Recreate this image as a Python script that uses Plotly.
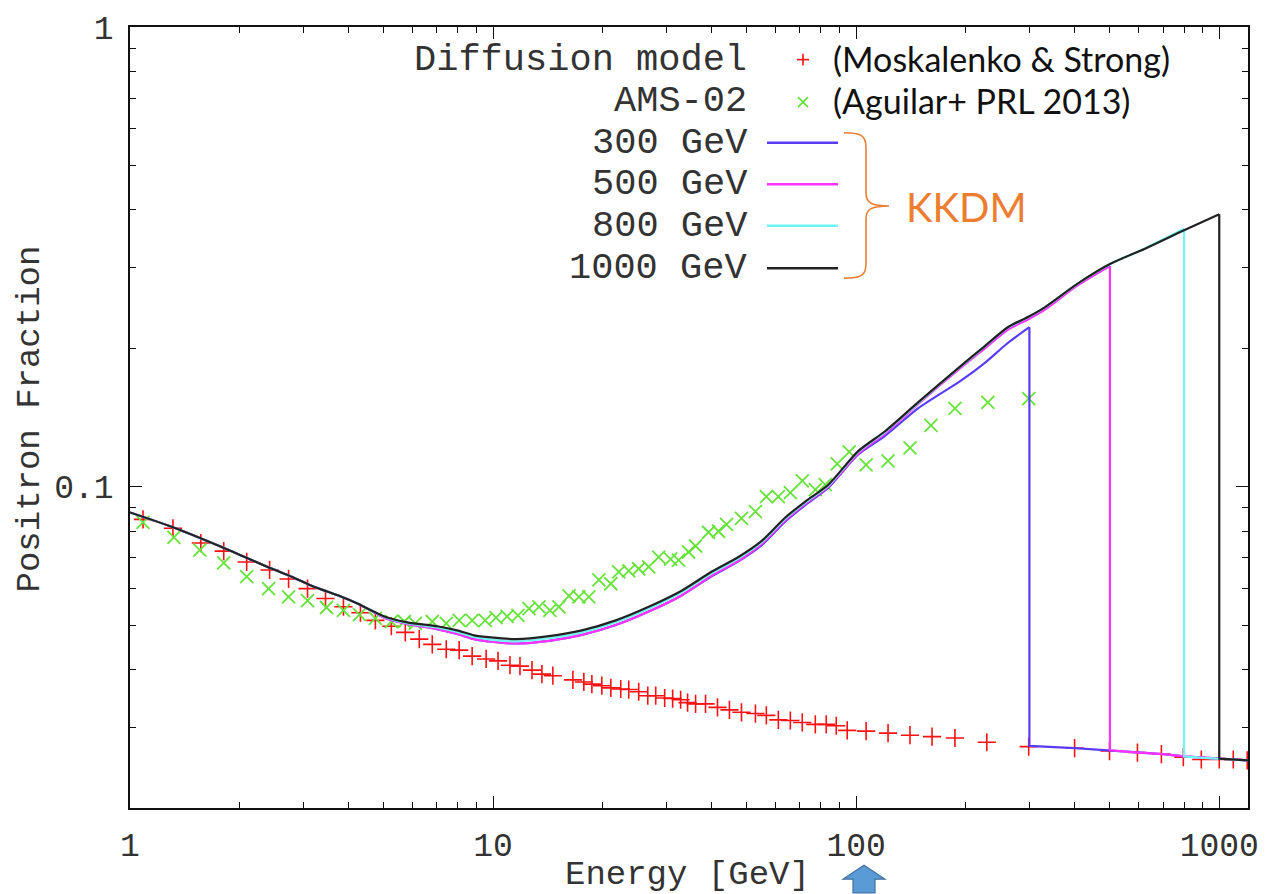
import math
import plotly.graph_objects as go

# ---------------- data ----------------
# Diffusion model background (Moskalenko & Strong)
bg_model_E = [1.086, 1.313, 1.567, 1.812, 2.096, 2.424, 2.734, 3.083, 3.455, 3.871, 4.312, 4.740, 5.245, 5.731,
              6.262, 6.800, 7.43, 8.065, 8.757, 9.57, 10.32, 11.13, 11.86, 12.80, 13.63, 14.61, 16.59, 17.78,
              18.71, 19.93, 21.10, 22.47, 23.64, 25.18, 26.67, 28.05, 29.69, 31.23, 32.85, 34.33, 36.12, 38.47,
              41.50, 44.77, 48.32, 52.79, 56.57, 61.05, 65.87, 71.05, 77.17, 82.71, 88.13, 94.47, 106.5, 122.4,
              140.7, 161.8, 187.1, 229.0, 298.7, 399.6, 498.7, 595.2, 692.9, 796.3, 892.4, 1000, 1093, 1194]
bg_model_frac = [0.0849, 0.0812, 0.0754, 0.0724, 0.0686, 0.0659, 0.0630, 0.0600, 0.0571, 0.0548, 0.0532, 0.0512,
                 0.0497, 0.0482, 0.0466, 0.0454, 0.0443, 0.0441, 0.0428, 0.0422, 0.0418, 0.0409, 0.0407, 0.0399,
                 0.0391, 0.0388, 0.0380, 0.0376, 0.0372, 0.0369, 0.0365, 0.0363, 0.0362, 0.0358, 0.0351, 0.0351,
                 0.0347, 0.0346, 0.0344, 0.0339, 0.0337, 0.0337, 0.0331, 0.0327, 0.0323, 0.0321, 0.0318, 0.0311,
                 0.0310, 0.0307, 0.0304, 0.0304, 0.0302, 0.0295, 0.0294, 0.0291, 0.0288, 0.0286, 0.0284, 0.0278,
                 0.0272, 0.0270, 0.0266, 0.0264, 0.0262, 0.0258, 0.0255, 0.0255, 0.0255, 0.0254]

# AMS-02 (Aguilar+ PRL 2013)
ams_E = [1.086, 1.321, 1.557, 1.812, 2.096, 2.409, 2.734, 3.083, 3.477, 3.871, 4.284, 4.740, 5.245, 5.694, 6.106,
         6.800, 7.43, 8.065, 8.757, 9.51, 10.19, 10.93, 11.71, 12.56, 13.38, 14.34, 15.18, 16.18, 17.23, 18.35,
         19.56, 21.10, 22.19, 23.64, 25.18, 26.83, 28.58, 30.83, 32.43, 34.55, 36.12, 39.21, 41.77, 43.95, 48.32,
         52.79, 56.57, 61.05, 65.87, 71.05, 77.17, 82.18, 88.67, 95.67, 106.5, 122.4, 140.7, 160.7, 187.1, 230.5,
         298.7]
ams_frac = [0.0836, 0.0776, 0.0728, 0.0683, 0.0637, 0.0600, 0.0576, 0.0565, 0.0546, 0.0538, 0.0527, 0.0517, 0.0509,
            0.0509, 0.0504, 0.0509, 0.0504, 0.0512, 0.0512, 0.0512, 0.0519, 0.0522, 0.0525, 0.0543, 0.0548, 0.0538,
            0.0548, 0.0579, 0.0576, 0.0576, 0.0627, 0.0615, 0.0653, 0.0656, 0.0663, 0.0669, 0.0703, 0.0696, 0.0692,
            0.0721, 0.0743, 0.0796, 0.0800, 0.0828, 0.0853, 0.0883, 0.0951, 0.0951, 0.0971, 0.1030, 0.0985, 0.1010,
            0.1121, 0.1190, 0.1115, 0.1138, 0.1214, 0.1360, 0.1480, 0.1525, 0.1555]

# KKDM model curves (energy grid shared), each ends at its DM mass
curve_E = [1.0, 1.313, 1.789, 2.070, 2.394, 2.787, 3.162, 3.823, 4.230, 4.622, 5.017, 5.804, 7.02, 7.96, 8.87,
           9.87, 11.57, 14.25, 17.56, 21.77, 26.83, 33.05, 39.96, 47.41, 54.83, 63.8, 72.4, 83.8, 101.3, 120.1,
           148.0, 194.3, 226.2, 261.6, 300, 330.5, 407.3, 500, 622.3, 800, 1000]
kk300_frac = [0.0879, 0.0816, 0.0739, 0.0703, 0.0669, 0.0637, 0.0609, 0.0576, 0.0557, 0.0537, 0.0519, 0.0503,
              0.0490, 0.0478, 0.0466, 0.0460, 0.0456, 0.0462, 0.0476, 0.0500, 0.0535, 0.0580, 0.0638, 0.0688,
              0.0745, 0.0840, 0.0912, 0.0995, 0.1175, 0.1290, 0.1480, 0.1701, 0.1860, 0.2054, 0.2223]
kk500_frac = [0.0879, 0.0816, 0.0739, 0.0703, 0.0669, 0.0637, 0.0609, 0.0576, 0.0557, 0.0537, 0.0519, 0.0503,
              0.0490, 0.0478, 0.0466, 0.0460, 0.0456, 0.0462, 0.0476, 0.0500, 0.0535, 0.0580, 0.0640, 0.0690,
              0.0750, 0.0845, 0.0918, 0.1000, 0.1180, 0.1305, 0.1512, 0.1815, 0.2000, 0.2195, 0.2320, 0.2425,
              0.2740, 0.3020]
kk800_frac = [0.0879, 0.0816, 0.0739, 0.0703, 0.0669, 0.0637, 0.0609, 0.0576, 0.0557, 0.0538, 0.0521, 0.0505,
              0.0494, 0.0483, 0.0471, 0.0465, 0.0461, 0.0468, 0.0482, 0.0507, 0.0543, 0.0589, 0.0648, 0.0698,
              0.0756, 0.0852, 0.0923, 0.1005, 0.1190, 0.1315, 0.1520, 0.1828, 0.2018, 0.2218, 0.2345, 0.2452,
              0.2762, 0.3048, 0.3295, 0.3640]
kk1000_frac = [0.0879, 0.0816, 0.0739, 0.0703, 0.0669, 0.0637, 0.0609, 0.0576, 0.0557, 0.0538, 0.0522, 0.0507,
               0.0497, 0.0487, 0.0475, 0.0470, 0.0466, 0.0473, 0.0487, 0.0512, 0.0548, 0.0594, 0.0653, 0.0703,
               0.0761, 0.0857, 0.0928, 0.1010, 0.1195, 0.1320, 0.1525, 0.1832, 0.2023, 0.2223, 0.2348, 0.2455,
               0.2765, 0.3050, 0.3291, 0.3615, 0.3915]
# background-only tail above the DM mass
tail_E = [300, 400, 500, 600, 700, 800, 900, 1000, 1200]
tail_frac = [0.0273, 0.0270, 0.0267, 0.0264, 0.0262, 0.0259, 0.0257, 0.0256, 0.0254]

masses = [300, 500, 800, 1000]
mass_labels = ["300 GeV", "500 GeV", "800 GeV", "1000 GeV"]
mass_curves = [kk300_frac, kk500_frac, kk800_frac, kk1000_frac]
mass_colors = ["#5B3CF5", "#FF33FF", "#70F4F4", "#222222"]

x_ticks = [1, 10, 100, 1000]
x_ticktext = ["1", "10", "100", "1000"]
y_ticks = [0.1, 1]
y_ticktext = ["0.1", "1"]

# ---------------- figure ----------------
W, H = 1278, 894
L, R, T, B = 130, 30, 18, 86
PW, PH = W - L - R, H - T - B


def px(x):
    return (x - L) / PW


def py(y):
    return (H - B - y) / PH


fig = go.Figure()

fig.add_trace(go.Scatter(x=bg_model_E, y=bg_model_frac, mode="markers",
                         marker=dict(symbol="cross-thin", size=13, line=dict(color="#FF1010", width=1.6)),
                         showlegend=False))
fig.add_trace(go.Scatter(x=ams_E, y=ams_frac, mode="markers",
                         marker=dict(symbol="x-thin", size=13, line=dict(color="#66E23A", width=1.8)),
                         showlegend=False))

for m, fr, col in zip(masses, mass_curves, mass_colors):
    n = len(fr)
    k = tail_E.index(m)
    # smooth rising part
    fig.add_trace(go.Scatter(x=curve_E[:n], y=fr, mode="lines",
                             line=dict(color=col, width=2.2, shape="spline", smoothing=0.7),
                             showlegend=False))
    # sharp drop at the mass and background tail
    fig.add_trace(go.Scatter(x=[curve_E[n - 1]] + tail_E[k:], y=[fr[-1]] + tail_frac[k:], mode="lines",
                             line=dict(color=col, width=2.2), showlegend=False))

mono = "Liberation Mono"
axis_common = dict(type="log", showgrid=False, zeroline=False, showline=True, linecolor="#111",
                   linewidth=1.5, mirror="ticks", ticks="inside", ticklen=12, tickwidth=1.2,
                   tickcolor="#111", tickfont=dict(family=mono, size=33, color="#333"))

minor_x = [a * b for b in (1, 10, 100) for a in range(2, 10)]
minor_y = [a * b for b in (0.01, 0.1) for a in range(2, 10) if a * b >= 0.02]

fig.update_xaxes(range=[0, math.log10(1200)], tickvals=x_ticks, ticktext=x_ticktext,
                 minor=dict(tickvals=minor_x, ticks="inside", ticklen=6, tickcolor="#111", showgrid=False),
                 ticklabelstandoff=7, **axis_common)
fig.update_yaxes(range=[math.log10(0.02), 0], tickvals=y_ticks, ticktext=y_ticktext,
                 minor=dict(tickvals=minor_y, ticks="inside", ticklen=6, tickcolor="#111", showgrid=False),
                 ticklabelstandoff=8, **axis_common)

ann = []
# axis titles
ann.append(dict(text="Energy [GeV]", x=px(687), y=py(876), xref="paper", yref="paper", showarrow=False,
                font=dict(family=mono, size=34, color="#333"), xanchor="center", yanchor="middle"))
ann.append(dict(text="Positron Fraction", x=px(30), y=py(415), xref="paper", yref="paper", showarrow=False,
                textangle=-90, font=dict(family=mono, size=34, color="#333"), xanchor="center", yanchor="middle"))

# legend texts
leg_y = [51, 93, 135, 177, 219, 262]
leg_txt = ["Diffusion model", "AMS-02"] + mass_labels
for t, yy in zip(leg_txt, leg_y):
    ann.append(dict(text=t, x=px(749), y=py(yy), xref="paper", yref="paper", showarrow=False,
                    font=dict(family=mono, size=37, color="#333"), xanchor="right", yanchor="middle"))

sans = "Lato"
ann.append(dict(text="(Moskalenko &amp; Strong)", x=px(831), y=py(50), xref="paper", yref="paper",
                showarrow=False, font=dict(family=sans, size=34, color="#111"), xanchor="left", yanchor="middle"))
ann.append(dict(text="(Aguilar+ PRL 2013)", x=px(831), y=py(92), xref="paper", yref="paper",
                showarrow=False, font=dict(family=sans, size=34, color="#111"), xanchor="left", yanchor="middle"))
ann.append(dict(text="KKDM", x=px(904), y=py(200), xref="paper", yref="paper",
                showarrow=False, font=dict(family=sans, size=40, color="#ED7D31"), xanchor="left", yanchor="middle"))

shapes = []
# legend line samples
for yy, col in zip(leg_y[2:], mass_colors):
    shapes.append(dict(type="line", xref="paper", yref="paper", x0=px(767), x1=px(838), y0=py(yy), y1=py(yy),
                       line=dict(color=col, width=2.5)))
# legend '+' sample
cx, cy = 803, 51
shapes.append(dict(type="line", xref="paper", yref="paper", x0=px(cx - 6), x1=px(cx + 6), y0=py(cy), y1=py(cy),
                   line=dict(color="#FF1010", width=1.6)))
shapes.append(dict(type="line", xref="paper", yref="paper", x0=px(cx), x1=px(cx), y0=py(cy - 6), y1=py(cy + 6),
                   line=dict(color="#FF1010", width=1.6)))
# legend 'x' sample
cx, cy = 803, 94
shapes.append(dict(type="line", xref="paper", yref="paper", x0=px(cx - 5), x1=px(cx + 5), y0=py(cy - 5), y1=py(cy + 5),
                   line=dict(color="#66E23A", width=1.8)))
shapes.append(dict(type="line", xref="paper", yref="paper", x0=px(cx - 5), x1=px(cx + 5), y0=py(cy + 5), y1=py(cy - 5),
                   line=dict(color="#66E23A", width=1.8)))


# curly brace
def P(x, y):
    return f"{px(x):.5f},{py(y):.5f}"


brace = ("M " + P(844, 125) + " C " + P(860, 125) + " " + P(866, 127) + " " + P(866, 140) +
         " L " + P(866, 186) + " C " + P(866, 196) + " " + P(872, 199) + " " + P(889, 199) +
         " M " + P(889, 199) + " C " + P(872, 199) + " " + P(866, 202) + " " + P(866, 212) +
         " L " + P(866, 258) + " C " + P(866, 270) + " " + P(860, 272) + " " + P(844, 272))
shapes.append(dict(type="path", xref="paper", yref="paper", path=brace, line=dict(color="#ED7D31", width=1.6)))

# blue arrow below the axis
arrow = ("M " + P(864, 866) + " L " + P(885, 880) + " L " + P(875, 880) + " L " + P(875, 894) +
         " L " + P(853, 894) + " L " + P(853, 880) + " L " + P(843, 880) + " Z")
shapes.append(dict(type="path", xref="paper", yref="paper", path=arrow, fillcolor="#5B9BD5",
                   line=dict(color="#41719C", width=1.2)))

fig.update_layout(width=W, height=H, margin=dict(l=L, r=R, t=T, b=B), plot_bgcolor="white",
                  paper_bgcolor="white", annotations=ann, shapes=shapes, showlegend=False)

fig.write_html("out.html")
